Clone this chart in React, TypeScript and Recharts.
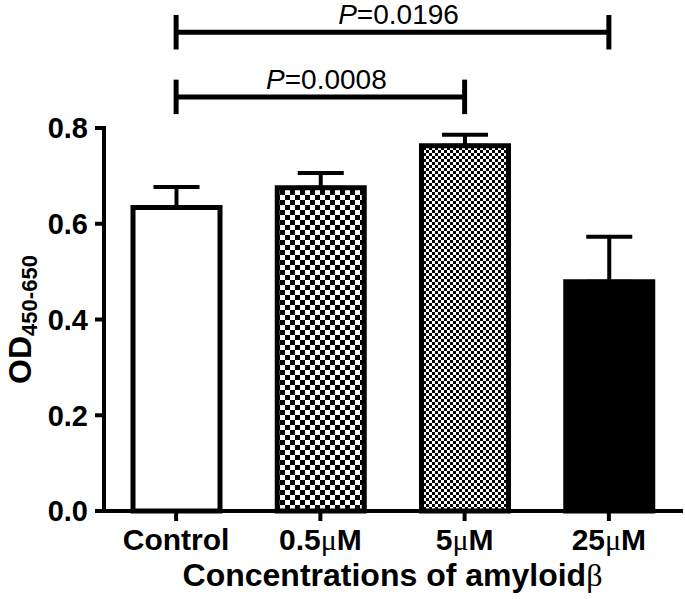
import React from 'react';
import { BarChart, Bar, XAxis, YAxis, ErrorBar, Cell, ReferenceLine } from 'recharts';

const categories = ['Control', '0.5μM', '5μM', '25μM'];
const odValues = [0.634, 0.675, 0.763, 0.479];
const semValues = [0.043, 0.031, 0.023, 0.094];
const yTicks = [0, 0.2, 0.4, 0.6, 0.8];
const barFills = ['#ffffff', 'url(#checkCoarse)', 'url(#checkFine)', '#000000'];

// significance brackets, level in OD units
const brackets = [
    { from: 'Control', to: '25μM', level: 1.0, p: '0.0196' },
    { from: 'Control', to: '5μM', level: 0.865, p: '0.0008' },
];
const bracketEnd = 0.036;

const data = categories.map((name, i) => ({
    name,
    od: odValues[i],
    sem: [0, semValues[i]],
}));

const SANS = 'Liberation Sans, Arial, sans-serif';
const SERIF = 'Liberation Serif, Times New Roman, serif';

const XTick = (props: any) => {
    const { x, y, payload } = props;
    const parts = String(payload.value).split('μ');
    return (
        <text x={x} y={y} dy={22} textAnchor="middle" fontFamily={SANS} fontWeight="bold" fontSize={30} fill="#000">
            {parts[0]}
            {parts.length > 1 && <tspan fontFamily={SERIF} fontWeight="normal">μ</tspan>}
            {parts.length > 1 && parts[1]}
        </text>
    );
};

const XTitle = (props: any) => {
    const { viewBox } = props;
    return (
        <text
            x={viewBox.x + viewBox.width / 2}
            y={viewBox.y + viewBox.height - 13}
            textAnchor="middle"
            fontFamily={SANS}
            fontWeight="bold"
            fontSize={32}
            fill="#000"
        >
            Concentrations of amyloid
            <tspan fontFamily={SERIF} fontWeight="normal">β</tspan>
        </text>
    );
};

const YTitle = (props: any) => {
    const { viewBox } = props;
    const cy = viewBox.y + viewBox.height / 2;
    return (
        <text
            transform={`translate(31,${cy}) rotate(-90)`}
            textAnchor="middle"
            fontFamily={SANS}
            fontWeight="bold"
            fill="#000"
        >
            <tspan fontSize={32}>OD</tspan>
            <tspan fontSize={22} dy={6}>450-650</tspan>
        </text>
    );
};

const PLabel = (props: any) => {
    const { viewBox, p } = props;
    return (
        <text
            x={viewBox.x + viewBox.width / 2 + 6}
            y={viewBox.y - 8}
            textAnchor="middle"
            fontFamily={SANS}
            fontSize={28}
            fill="#000"
        >
            <tspan fontStyle="italic">P</tspan>={p}
        </text>
    );
};

const lineStyle = { stroke: '#000', strokeWidth: 5 };

const App: React.FC = () => {
    const bracketLines = brackets.flatMap((b, i) => [
        <ReferenceLine
            key={`h${i}`}
            segment={[{ x: b.from, y: b.level }, { x: b.to, y: b.level }]}
            ifOverflow="visible"
            {...lineStyle}
            label={<PLabel p={b.p} />}
        />,
        <ReferenceLine
            key={`l${i}`}
            segment={[{ x: b.from, y: b.level - bracketEnd }, { x: b.from, y: b.level + bracketEnd }]}
            ifOverflow="visible"
            {...lineStyle}
        />,
        <ReferenceLine
            key={`r${i}`}
            segment={[{ x: b.to, y: b.level - bracketEnd }, { x: b.to, y: b.level + bracketEnd }]}
            ifOverflow="visible"
            {...lineStyle}
        />,
    ]);

    return (
        <div style={{ position: 'absolute', left: 0, top: 0, width: 685, height: 599, background: '#fff' }}>
            <BarChart width={685} height={599} data={data} margin={{ top: 128, right: 4, bottom: 0, left: 0 }}>
                <defs>
                    <pattern id="checkCoarse" width={10} height={10} patternUnits="userSpaceOnUse">
                        <rect width={10} height={10} fill="#fff" />
                        <rect x={0} y={0} width={5} height={5} fill="#000" />
                        <rect x={5} y={5} width={5} height={5} fill="#000" />
                    </pattern>
                    <pattern id="checkFine" width={6} height={6} patternUnits="userSpaceOnUse">
                        <rect width={6} height={6} fill="#fff" />
                        <rect x={0} y={0} width={3} height={3} fill="#000" />
                        <rect x={3} y={3} width={3} height={3} fill="#000" />
                    </pattern>
                </defs>
                <XAxis
                    dataKey="name"
                    height={88}
                    axisLine={{ stroke: '#000', strokeWidth: 4, strokeLinecap: 'square' }}
                    tickLine={{ stroke: '#000', strokeWidth: 4 }}
                    tickSize={10}
                    tickMargin={7}
                    tick={<XTick />}
                    interval={0}
                    label={<XTitle />}
                />
                <YAxis
                    width={104}
                    domain={[0, 0.8]}
                    ticks={yTicks}
                    tickFormatter={(v: number) => v.toFixed(1)}
                    axisLine={{ stroke: '#000', strokeWidth: 4, strokeLinecap: 'square' }}
                    tickLine={{ stroke: '#000', strokeWidth: 4 }}
                    tickSize={9}
                    tickMargin={7}
                    tick={{ fill: '#000', fontSize: 29, fontWeight: 'bold', fontFamily: SANS }}
                    label={<YTitle />}
                />
                <Bar dataKey="od" barSize={87} stroke="#000" strokeWidth={5} isAnimationActive={false}>
                    {data.map((d, i) => (
                        <Cell key={d.name} fill={barFills[i]} />
                    ))}
                    <ErrorBar dataKey="sem" direction="y" width={23} stroke="#000" strokeWidth={4} isAnimationActive={false} />
                </Bar>
                {bracketLines}
            </BarChart>
        </div>
    );
};

export default App;
